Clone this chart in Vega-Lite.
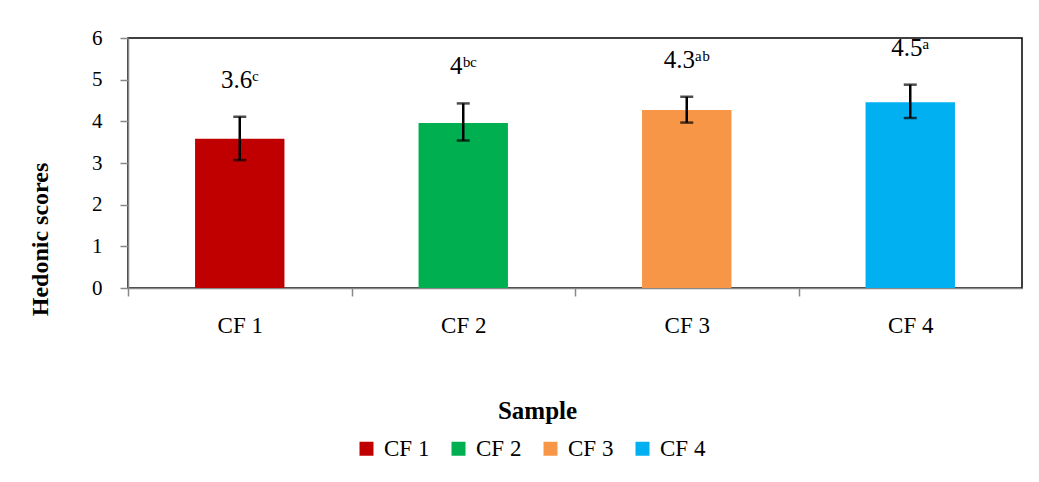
{
  "$schema": "https://vega.github.io/schema/vega-lite/v6.json",
  "width": 894,
  "height": 250,
  "autosize": {"type": "none"},
  "padding": {"left": 128, "top": 38, "right": 17, "bottom": 194},
  "background": "white",
  "data": {
    "values": [
      {"sample": "CF 1", "mean": 3.58, "lo": 3.07, "hi": 4.11, "label": "3.6ᶜ"},
      {"sample": "CF 2", "mean": 3.96, "lo": 3.54, "hi": 4.43, "label": "4ᵇᶜ"},
      {"sample": "CF 3", "mean": 4.27, "lo": 3.97, "hi": 4.59, "label": "4.3ᵃᵇ"},
      {"sample": "CF 4", "mean": 4.46, "lo": 4.08, "hi": 4.88, "label": "4.5ᵃ"}
    ]
  },
  "config": {
    "font": "Liberation Serif",
    "view": {"stroke": "#000", "strokeWidth": 1.5},
    "axis": {
      "grid": false,
      "domainColor": "#888",
      "domainWidth": 1.5,
      "tickColor": "#888",
      "tickWidth": 1.5,
      "labelColor": "#000",
      "titleColor": "#000",
      "labelFont": "Liberation Serif",
      "titleFont": "Liberation Serif"
    }
  },
  "encoding": {
    "x": {
      "field": "sample",
      "type": "nominal",
      "scale": {"paddingInner": 0.6, "paddingOuter": 0.3},
      "axis": {
        "title": "Sample",
        "titleFontWeight": "bold",
        "titleFontSize": 25,
        "titleX": 409,
        "titleY": 122,
        "titleAlign": "center",
        "titleBaseline": "middle",
        "labelAngle": 0,
        "labelFontSize": 23,
        "labelPadding": 18,
        "labelOffset": 111.75,
        "tickSize": 8,
        "tickOffset": -111.75
      }
    }
  },
  "layer": [
    {
      "mark": {"type": "bar"},
      "encoding": {
        "y": {
          "field": "mean",
          "type": "quantitative",
          "scale": {"domain": [0, 6]},
          "axis": {
            "title": "Hedonic scores",
            "titleFontWeight": "bold",
            "titleFontSize": 24,
            "titleAngle": 270,
            "titleX": -88,
            "titleY": 201,
            "titleAlign": "center",
            "titleBaseline": "middle",
            "values": [0, 1, 2, 3, 4, 5, 6],
            "labelFontSize": 21,
            "labelPadding": 18,
            "tickSize": 8
          }
        },
        "color": {
          "field": "sample",
          "type": "nominal",
          "scale": {"domain": ["CF 1", "CF 2", "CF 3", "CF 4"], "range": ["#C00000", "#00B050", "#F79646", "#00B0F0"]},
          "legend": {
            "title": null,
            "orient": "none",
            "legendX": 227,
            "legendY": 399,
            "direction": "horizontal",
            "symbolType": "square",
            "symbolSize": 196,
            "symbolStrokeWidth": 0,
            "symbolOpacity": 1,
            "labelFontSize": 23,
            "labelFont": "Liberation Serif",
            "labelColor": "#000",
            "labelOffset": 6,
            "columnPadding": 17,
            "padding": 0
          }
        }
      }
    },
    {
      "mark": {"type": "errorbar", "ticks": true, "size": 13, "thickness": 2.5, "color": "#000"},
      "encoding": {
        "y": {"field": "lo", "type": "quantitative", "title": "Hedonic scores"},
        "y2": {"field": "hi"}
      }
    },
    {
      "mark": {"type": "text", "dy": -37, "fontSize": 25, "font": "Liberation Serif", "color": "#000", "baseline": "middle"},
      "encoding": {
        "y": {"field": "hi", "type": "quantitative", "title": "Hedonic scores"},
        "text": {"field": "label"}
      }
    }
  ]
}
